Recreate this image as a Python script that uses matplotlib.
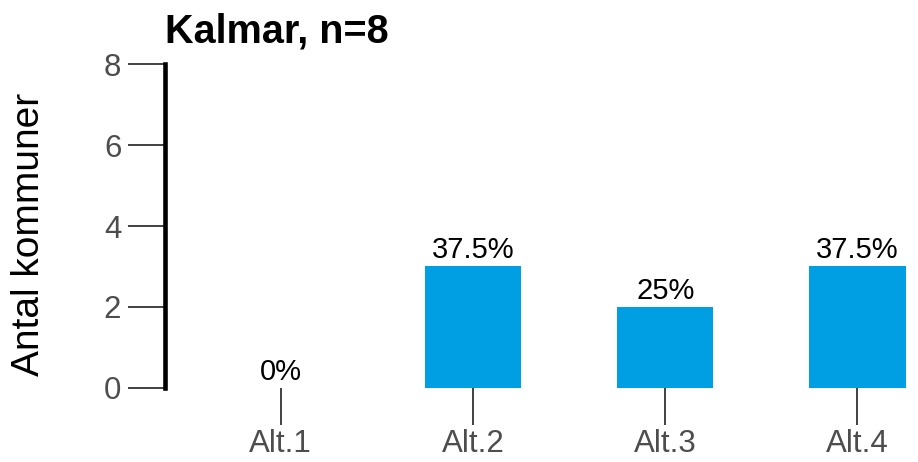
import numpy as np
import matplotlib.pyplot as plt

plt.rcParams['font.family'] = ['Liberation Sans', 'DejaVu Sans']

categories = ['Alt.1', 'Alt.2', 'Alt.3', 'Alt.4']
counts = [0, 3, 2, 3]
n_total = 8
title = 'Kalmar, n=8'
ylabel = 'Antal kommuner'

fig = plt.figure(figsize=(9.18, 4.62), dpi=100)
ax = fig.add_axes([165 / 918, (462 - 387.7) / 462, 753 / 918, 323.4 / 462])

x = np.arange(len(categories))
ax.bar(x, counts, width=0.5, color='#009FE3')

# percent labels above each bar
for xi, c in zip(x, counts):
    pct = c / n_total * 100
    lab = ('%g' % pct) + '%'
    ax.text(xi, c + 0.05, lab, ha='center', va='bottom', fontsize=21, color='black')

ax.set_xlim(-0.602, 3.315)
ax.set_ylim(0, 8)
ax.set_yticks([0, 2, 4, 6, 8])
ax.set_xticks(x)
ax.set_xticklabels(categories)

for s in ['top', 'right', 'bottom']:
    ax.spines[s].set_visible(False)
ax.spines['left'].set_linewidth(3.3)
ax.spines['left'].set_bounds(0, 8)

ax.tick_params(axis='both', length=26.5, width=1.3, color='#333333',
               labelcolor='#4D4D4D', labelsize=22.5)
ax.tick_params(axis='x', pad=3)
ax.tick_params(axis='y', pad=5)

ax.set_ylabel(ylabel, fontsize=28, color='black')
ax.yaxis.set_label_coords(-0.157, 0.475)
ax.set_title(title, fontsize=28.5, fontweight='bold', loc='left', pad=16)

fig.savefig('out.png', dpi=100)
